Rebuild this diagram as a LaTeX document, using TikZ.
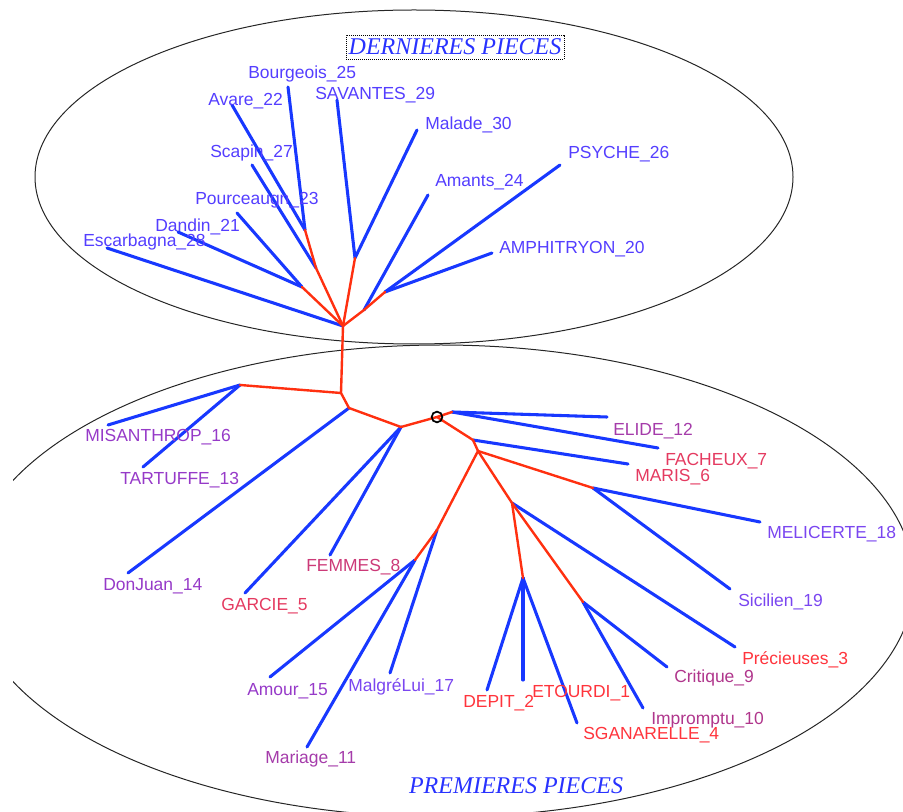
\documentclass[tikz,border=0pt]{standalone}
\usepackage{fontspec}
\setmainfont{Liberation Sans}
\newfontfamily\titlefont{Liberation Serif}
\definecolor{edgeblue}{RGB}{24,56,255}
\definecolor{edgered}{RGB}{255,48,16}
\definecolor{titleblue}{RGB}{40,50,255}
\definecolor{cBlue}{RGB}{84,62,255}
\definecolor{cViolet}{RGB}{122,70,240}
\definecolor{cPurple}{RGB}{150,58,200}
\definecolor{cMauve}{RGB}{165,60,170}
\definecolor{cPlum}{RGB}{176,54,140}
\definecolor{cRose}{RGB}{204,58,120}
\definecolor{cPink}{RGB}{228,58,96}
\definecolor{cRed}{RGB}{255,52,60}
\tikzset{
  blueedge/.style={draw=edgeblue, line width=2.3pt, line cap=round},
  rededge/.style={draw=edgered, line width=1.8pt, line cap=round, line join=round},
  lab/.style={anchor=west, inner sep=0pt, font=\fontsize{13.1}{15}\selectfont},
  ttl/.style={inner sep=0pt, text=titleblue, font=\titlefont\itshape\fontsize{18}{20}\selectfont},
  groupline/.style={draw=black!85, line width=0.75pt},
}
\begin{document}
\begin{tikzpicture}[x=0.75pt, y=-0.75pt]
\useasboundingbox (0,0) rectangle (903,812);

% group outlines
\draw[groupline] (414,177) ellipse [x radius=284.25pt, y radius=125.25pt];
\begin{scope}
  \clip (13,0) rectangle (903,812);
  \draw[groupline] (441,581) ellipse [x radius=354.75pt, y radius=177pt];
\end{scope}

% group titles
\node[ttl, draw=black, densely dotted, line width=0.5pt, inner xsep=2pt, inner ysep=3pt] (tdern) at (455,47) {DERNIERES PIECES};
\node[ttl] (tprem) at (516,786) {PREMIERES PIECES};

% ---- internal vertices: upper group
\coordinate (tR)  at (343,326);
\coordinate (tBA) at (305,230);
\coordinate (tSc) at (316,268);
\coordinate (tPD) at (302,287);
\coordinate (tSM) at (355,258);
\coordinate (tPA) at (385,292);
\coordinate (tAm) at (364,310);
% ---- internal vertices: lower group
\coordinate (n1)   at (341,393);
\coordinate (nMT)  at (240,385);
\coordinate (nDJ)  at (349,408);
\coordinate (nGF)  at (401,427);
\coordinate (root) at (437,417);
\coordinate (nEF)  at (452,412);
\coordinate (nMa)  at (473,440);
\coordinate (nB)   at (478,451);
\coordinate (nMS)  at (593,488);
\coordinate (nP)   at (512,503);
\coordinate (nDES) at (523,578);
\coordinate (nCI)  at (583,602);
\coordinate (nML)  at (437,530);
\coordinate (nAM)  at (415,560);

% ---- leaf tips
\coordinate (lBour) at (288,87);
\coordinate (lAvar) at (232,105);
\coordinate (lScap) at (252,165);
\coordinate (lPour) at (237,213);
\coordinate (lDand) at (178,232);
\coordinate (lEsca) at (107,248);
\coordinate (lSava) at (337,100);
\coordinate (lMala) at (417,130);
\coordinate (lAman) at (428,195);
\coordinate (lPsyc) at (560,165);
\coordinate (lAmph) at (492,253);
\coordinate (lMisa) at (108,425);
\coordinate (lTart) at (143,467);
\coordinate (lDonJ) at (128,573);
\coordinate (lGarc) at (245,593);
\coordinate (lFemm) at (330,555);
\coordinate (lElid) at (607,417);
\coordinate (lFach) at (658,448);
\coordinate (lMari) at (628,464);
\coordinate (lMeli) at (760,522);
\coordinate (lSici) at (730,589);
\coordinate (lPrec) at (735,647);
\coordinate (lDepi) at (487,690);
\coordinate (lEtou) at (523,680);
\coordinate (lSgan) at (577,723);
\coordinate (lCrit) at (667,667);
\coordinate (lImpr) at (643,708);
\coordinate (lMalg) at (390,673);
\coordinate (lAmou) at (270,677);
\coordinate (lMari2) at (307,747);

% ---- terminal branches
\foreach \a/\b in {lBour/tBA, lAvar/tBA, lScap/tSc, lPour/tPD, lDand/tPD,
                   lEsca/tR, lSava/tSM, lMala/tSM, lAman/tAm, lPsyc/tPA, lAmph/tPA,
                   lMisa/nMT, lTart/nMT, lDonJ/nDJ, lGarc/nGF, lFemm/nGF,
                   lElid/nEF, lFach/nEF, lMari/nMa, lMeli/nMS, lSici/nMS,
                   lPrec/nP, lDepi/nDES, lEtou/nDES, lSgan/nDES,
                   lCrit/nCI, lImpr/nCI, lMalg/nML, lAmou/nAM, lMari2/nAM}
  \draw[blueedge] (\a) -- (\b);

% ---- internal branches
\draw[rededge] (tBA) -- (tSc) -- (tR);
\draw[rededge] (tPD) -- (tR);
\draw[rededge] (tSM) -- (tR);
\draw[rededge] (tPA) -- (tAm) -- (tR);
\draw[rededge] (tR) -- (n1) -- (nMT);
\draw[rededge] (n1) -- (nDJ) -- (nGF) -- (root) -- (nEF);
\draw[rededge] (root) -- (nMa) -- (nB) -- (nMS);
\draw[rededge] (nB) -- (nML) -- (nAM);
\draw[rededge] (nB) -- (nP) -- (nDES);
\draw[rededge] (nP) -- (nCI);

% root marker
\draw[black, line width=1.3pt] (root) circle [radius=4pt];

% ---- labels: upper group
\node[lab, text=cBlue] (Bour) at (248,74)  {Bourgeois\_25};
\node[lab, text=cBlue] (Avar) at (208,101) {Avare\_22};
\node[lab, text=cBlue] (Sava) at (315,95)  {SAVANTES\_29};
\node[lab, text=cBlue] (Mala) at (425,125) {Malade\_30};
\node[lab, text=cBlue] (Scap) at (210,153) {Scapin\_27};
\node[lab, text=cBlue] (Psyc) at (568,154) {PSYCHE\_26};
\node[lab, text=cBlue] (Aman) at (435,182) {Amants\_24};
\node[lab, text=cBlue] (Pour) at (195,200) {Pourceaugn\_23};
\node[lab, text=cBlue] (Dand) at (155,227) {Dandin\_21};
\node[lab, text=cBlue] (Esca) at (83,242)  {Escarbagna\_28};
\node[lab, text=cBlue] (Amph) at (499,249) {AMPHITRYON\_20};
% ---- labels: lower group
\node[lab, text=cPurple] (Misa) at (85,437)  {MISANTHROP\_16};
\node[lab, text=cPurple] (Tart) at (120,480) {TARTUFFE\_13};
\node[lab, text=cPurple] (DonJ) at (103,586) {DonJuan\_14};
\node[lab, text=cPink]   (Garc) at (221,606) {GARCIE\_5};
\node[lab, text=cRose]   (Femm) at (306,567) {FEMMES\_8};
\node[lab, text=cMauve]  (Elid) at (613,431) {ELIDE\_12};
\node[lab, text=cPink]   (Fach) at (665,461) {FACHEUX\_7};
\node[lab, text=cPink]   (Mari) at (635,477) {MARIS\_6};
\node[lab, text=cViolet] (Meli) at (767,534) {MELICERTE\_18};
\node[lab, text=cViolet] (Sici) at (738,602) {Sicilien\_19};
\node[lab, text=cRed]    (Prec) at (742,660) {Précieuses\_3};
\node[lab, text=cPlum]   (Crit) at (674,678) {Critique\_9};
\node[lab, text=cPlum]   (Impr) at (651,720) {Impromptu\_10};
\node[lab, text=cRed]    (Sgan) at (583,735) {SGANARELLE\_4};
\node[lab, text=cRed]    (Etou) at (532,693) {ETOURDI\_1};
\node[lab, text=cRed]    (Depi) at (463,703) {DEPIT\_2};
\node[lab, text=cViolet] (Malg) at (348,687) {MalgréLui\_17};
\node[lab, text=cPurple] (Amou) at (247,691) {Amour\_15};
\node[lab, text=cMauve]  (Mari2) at (265,759) {Mariage\_11};
\end{tikzpicture}
\end{document}
